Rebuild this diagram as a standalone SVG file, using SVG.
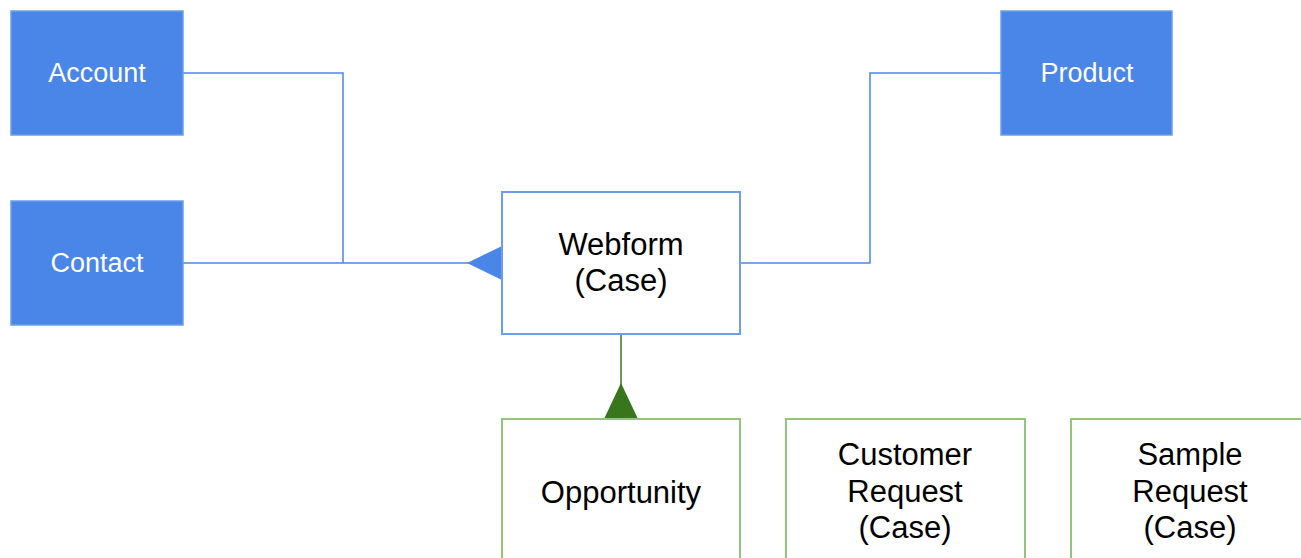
<svg xmlns="http://www.w3.org/2000/svg" width="1301" height="558" viewBox="0 0 1301 558">
<style>
.ent{fill:#4a86e8;stroke:#6d9eeb;stroke-width:1.5}
.wf{fill:#fff;stroke:#6d9eeb;stroke-width:2}
.sub{fill:#fff;stroke:#93c47d;stroke-width:2}
.wt{font-family:"Liberation Sans",Arial,sans-serif;font-size:27px;fill:#fff;text-anchor:middle}
.bt{font-family:"Liberation Sans",Arial,sans-serif;font-size:31px;fill:#000;text-anchor:middle}
.bl{fill:none;stroke:#4a86e8;stroke-width:1.5}
.gl{fill:none;stroke:#38761d;stroke-width:1.5}
</style>
<rect width="1301" height="558" fill="#fff"/>
<g id="connectors">
<polyline class="bl" points="183,73 343,73 343,263"/>
<polyline class="bl" points="183,263 502,263"/>
<polygon points="502,246 502,280 467,263" fill="#4a86e8"/>
<polyline class="bl" points="740,263 870,263 870,73 1001,73"/>
<polyline class="gl" points="621,334 621,419"/>
<polygon points="604,419 638,419 621,383" fill="#38761d"/>
</g>
<g id="account"><rect class="ent" x="11" y="11" width="172" height="124"/><text class="wt" x="97" y="82">Account</text></g>
<g id="contact"><rect class="ent" x="11" y="201" width="172" height="124"/><text class="wt" x="97" y="272">Contact</text></g>
<g id="product"><rect class="ent" x="1001" y="11" width="171" height="124"/><text class="wt" x="1087" y="82">Product</text></g>
<g id="webform"><rect class="wf" x="502" y="192" width="238" height="142"/><text class="bt" x="621" y="255">Webform</text><text class="bt" x="621" y="291">(Case)</text></g>
<g id="opportunity"><rect class="sub" x="502" y="419" width="238" height="150"/><text class="bt" x="621" y="503">Opportunity</text></g>
<g id="customer-request"><rect class="sub" x="786" y="419" width="239" height="150"/><text class="bt" x="905" y="465">Customer</text><text class="bt" x="905" y="502">Request</text><text class="bt" x="905" y="538">(Case)</text></g>
<g id="sample-request"><rect class="sub" x="1071" y="419" width="240" height="150"/><text class="bt" x="1190" y="465">Sample</text><text class="bt" x="1190" y="502">Request</text><text class="bt" x="1190" y="538">(Case)</text></g>
</svg>
